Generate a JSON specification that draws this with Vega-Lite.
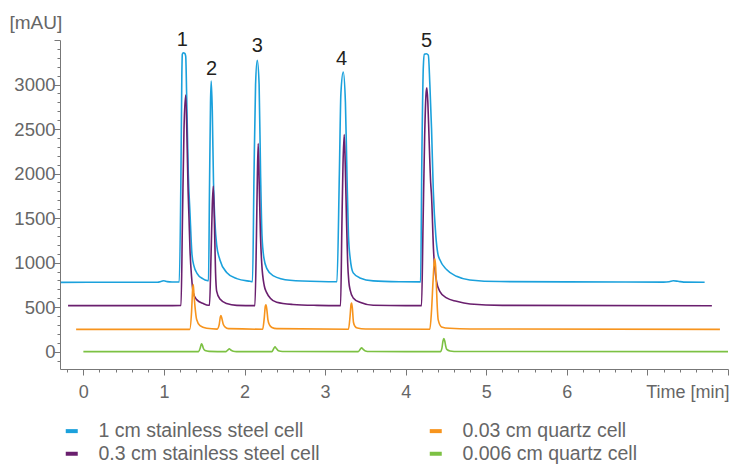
{
  "$schema": "https://vega.github.io/schema/vega-lite/v6.json",
  "width": 668,
  "height": 329,
  "autosize": "none",
  "padding": {"left": 60, "top": 40, "right": 5, "bottom": 95},
  "background": "white",
  "config": {"view": {"stroke": null}, "font": "Liberation Sans"},
  "datasets": {
    "traces": [
      {"series": "1 cm stainless steel cell", "t": -0.28, "v": 778},
      {"series": "1 cm stainless steel cell", "t": 0.5, "v": 780},
      {"series": "1 cm stainless steel cell", "t": 0.92, "v": 780},
      {"series": "1 cm stainless steel cell", "t": 0.97, "v": 790},
      {"series": "1 cm stainless steel cell", "t": 1.0, "v": 796},
      {"series": "1 cm stainless steel cell", "t": 1.04, "v": 786},
      {"series": "1 cm stainless steel cell", "t": 1.1, "v": 782},
      {"series": "1 cm stainless steel cell", "t": 1.19, "v": 783},
      {"series": "1 cm stainless steel cell", "t": 1.21, "v": 1900},
      {"series": "1 cm stainless steel cell", "t": 1.222, "v": 3100},
      {"series": "1 cm stainless steel cell", "t": 1.228, "v": 3340},
      {"series": "1 cm stainless steel cell", "t": 1.24, "v": 3357},
      {"series": "1 cm stainless steel cell", "t": 1.258, "v": 3350},
      {"series": "1 cm stainless steel cell", "t": 1.27, "v": 3320},
      {"series": "1 cm stainless steel cell", "t": 1.282, "v": 2870},
      {"series": "1 cm stainless steel cell", "t": 1.302, "v": 2000},
      {"series": "1 cm stainless steel cell", "t": 1.323, "v": 1560},
      {"series": "1 cm stainless steel cell", "t": 1.348, "v": 1090},
      {"series": "1 cm stainless steel cell", "t": 1.373, "v": 960},
      {"series": "1 cm stainless steel cell", "t": 1.41, "v": 880},
      {"series": "1 cm stainless steel cell", "t": 1.485, "v": 817},
      {"series": "1 cm stainless steel cell", "t": 1.534, "v": 798},
      {"series": "1 cm stainless steel cell", "t": 1.553, "v": 796},
      {"series": "1 cm stainless steel cell", "t": 1.565, "v": 1800},
      {"series": "1 cm stainless steel cell", "t": 1.578, "v": 2800},
      {"series": "1 cm stainless steel cell", "t": 1.587, "v": 3038},
      {"series": "1 cm stainless steel cell", "t": 1.6, "v": 2700},
      {"series": "1 cm stainless steel cell", "t": 1.615, "v": 1900},
      {"series": "1 cm stainless steel cell", "t": 1.633, "v": 1450},
      {"series": "1 cm stainless steel cell", "t": 1.654, "v": 1200},
      {"series": "1 cm stainless steel cell", "t": 1.695, "v": 1030},
      {"series": "1 cm stainless steel cell", "t": 1.778, "v": 890},
      {"series": "1 cm stainless steel cell", "t": 1.903, "v": 820},
      {"series": "1 cm stainless steel cell", "t": 2.068, "v": 790},
      {"series": "1 cm stainless steel cell", "t": 2.099, "v": 786},
      {"series": "1 cm stainless steel cell", "t": 2.118, "v": 2000},
      {"series": "1 cm stainless steel cell", "t": 2.137, "v": 3000},
      {"series": "1 cm stainless steel cell", "t": 2.158, "v": 3271},
      {"series": "1 cm stainless steel cell", "t": 2.181, "v": 3000},
      {"series": "1 cm stainless steel cell", "t": 2.199, "v": 2000},
      {"series": "1 cm stainless steel cell", "t": 2.217, "v": 1300},
      {"series": "1 cm stainless steel cell", "t": 2.241, "v": 1050},
      {"series": "1 cm stainless steel cell", "t": 2.279, "v": 930},
      {"series": "1 cm stainless steel cell", "t": 2.353, "v": 854},
      {"series": "1 cm stainless steel cell", "t": 2.564, "v": 801},
      {"series": "1 cm stainless steel cell", "t": 2.936, "v": 787},
      {"series": "1 cm stainless steel cell", "t": 3.147, "v": 785},
      {"series": "1 cm stainless steel cell", "t": 3.177, "v": 2000},
      {"series": "1 cm stainless steel cell", "t": 3.196, "v": 2900},
      {"series": "1 cm stainless steel cell", "t": 3.225, "v": 3139},
      {"series": "1 cm stainless steel cell", "t": 3.252, "v": 2800},
      {"series": "1 cm stainless steel cell", "t": 3.271, "v": 2000},
      {"series": "1 cm stainless steel cell", "t": 3.29, "v": 1300},
      {"series": "1 cm stainless steel cell", "t": 3.311, "v": 1050},
      {"series": "1 cm stainless steel cell", "t": 3.349, "v": 884},
      {"series": "1 cm stainless steel cell", "t": 3.432, "v": 828},
      {"series": "1 cm stainless steel cell", "t": 3.597, "v": 795},
      {"series": "1 cm stainless steel cell", "t": 3.928, "v": 785},
      {"series": "1 cm stainless steel cell", "t": 4.185, "v": 783},
      {"series": "1 cm stainless steel cell", "t": 4.201, "v": 2200},
      {"series": "1 cm stainless steel cell", "t": 4.219, "v": 3200},
      {"series": "1 cm stainless steel cell", "t": 4.232, "v": 3340},
      {"series": "1 cm stainless steel cell", "t": 4.256, "v": 3346},
      {"series": "1 cm stainless steel cell", "t": 4.281, "v": 3330},
      {"series": "1 cm stainless steel cell", "t": 4.3, "v": 3000},
      {"series": "1 cm stainless steel cell", "t": 4.321, "v": 2500},
      {"series": "1 cm stainless steel cell", "t": 4.343, "v": 1800},
      {"series": "1 cm stainless steel cell", "t": 4.374, "v": 1300},
      {"series": "1 cm stainless steel cell", "t": 4.399, "v": 1100},
      {"series": "1 cm stainless steel cell", "t": 4.423, "v": 1034},
      {"series": "1 cm stainless steel cell", "t": 4.507, "v": 922},
      {"series": "1 cm stainless steel cell", "t": 4.631, "v": 846},
      {"series": "1 cm stainless steel cell", "t": 4.796, "v": 805},
      {"series": "1 cm stainless steel cell", "t": 5.168, "v": 787},
      {"series": "1 cm stainless steel cell", "t": 6.0, "v": 784},
      {"series": "1 cm stainless steel cell", "t": 7.2, "v": 781},
      {"series": "1 cm stainless steel cell", "t": 7.27, "v": 785},
      {"series": "1 cm stainless steel cell", "t": 7.32, "v": 796},
      {"series": "1 cm stainless steel cell", "t": 7.38, "v": 790},
      {"series": "1 cm stainless steel cell", "t": 7.45, "v": 781},
      {"series": "1 cm stainless steel cell", "t": 7.71, "v": 779},

      {"series": "0.3 cm stainless steel cell", "t": -0.19, "v": 517},
      {"series": "0.3 cm stainless steel cell", "t": 1.0, "v": 517},
      {"series": "0.3 cm stainless steel cell", "t": 1.212, "v": 520},
      {"series": "0.3 cm stainless steel cell", "t": 1.23, "v": 1500},
      {"series": "0.3 cm stainless steel cell", "t": 1.249, "v": 2500},
      {"series": "0.3 cm stainless steel cell", "t": 1.27, "v": 2881},
      {"series": "0.3 cm stainless steel cell", "t": 1.286, "v": 2400},
      {"series": "0.3 cm stainless steel cell", "t": 1.3, "v": 1800},
      {"series": "0.3 cm stainless steel cell", "t": 1.311, "v": 1500},
      {"series": "0.3 cm stainless steel cell", "t": 1.323, "v": 1150},
      {"series": "0.3 cm stainless steel cell", "t": 1.342, "v": 850},
      {"series": "0.3 cm stainless steel cell", "t": 1.364, "v": 660},
      {"series": "0.3 cm stainless steel cell", "t": 1.406, "v": 584},
      {"series": "0.3 cm stainless steel cell", "t": 1.488, "v": 540},
      {"series": "0.3 cm stainless steel cell", "t": 1.55, "v": 521},
      {"series": "0.3 cm stainless steel cell", "t": 1.565, "v": 522},
      {"series": "0.3 cm stainless steel cell", "t": 1.585, "v": 1100},
      {"series": "0.3 cm stainless steel cell", "t": 1.6, "v": 1650},
      {"series": "0.3 cm stainless steel cell", "t": 1.612, "v": 1858},
      {"series": "0.3 cm stainless steel cell", "t": 1.625, "v": 1500},
      {"series": "0.3 cm stainless steel cell", "t": 1.64, "v": 900},
      {"series": "0.3 cm stainless steel cell", "t": 1.654, "v": 680},
      {"series": "0.3 cm stainless steel cell", "t": 1.695, "v": 590},
      {"series": "0.3 cm stainless steel cell", "t": 1.778, "v": 540},
      {"series": "0.3 cm stainless steel cell", "t": 1.903, "v": 520},
      {"series": "0.3 cm stainless steel cell", "t": 2.129, "v": 517},
      {"series": "0.3 cm stainless steel cell", "t": 2.148, "v": 1300},
      {"series": "0.3 cm stainless steel cell", "t": 2.16, "v": 2000},
      {"series": "0.3 cm stainless steel cell", "t": 2.17, "v": 2338},
      {"series": "0.3 cm stainless steel cell", "t": 2.182, "v": 1900},
      {"series": "0.3 cm stainless steel cell", "t": 2.198, "v": 1300},
      {"series": "0.3 cm stainless steel cell", "t": 2.213, "v": 1000},
      {"series": "0.3 cm stainless steel cell", "t": 2.245, "v": 740},
      {"series": "0.3 cm stainless steel cell", "t": 2.275, "v": 663},
      {"series": "0.3 cm stainless steel cell", "t": 2.32, "v": 600},
      {"series": "0.3 cm stainless steel cell", "t": 2.399, "v": 554},
      {"series": "0.3 cm stainless steel cell", "t": 2.6, "v": 530},
      {"series": "0.3 cm stainless steel cell", "t": 2.9, "v": 520},
      {"series": "0.3 cm stainless steel cell", "t": 3.192, "v": 517},
      {"series": "0.3 cm stainless steel cell", "t": 3.208, "v": 1400},
      {"series": "0.3 cm stainless steel cell", "t": 3.222, "v": 2100},
      {"series": "0.3 cm stainless steel cell", "t": 3.237, "v": 2439},
      {"series": "0.3 cm stainless steel cell", "t": 3.25, "v": 2100},
      {"series": "0.3 cm stainless steel cell", "t": 3.265, "v": 1500},
      {"series": "0.3 cm stainless steel cell", "t": 3.28, "v": 1000},
      {"series": "0.3 cm stainless steel cell", "t": 3.295, "v": 780},
      {"series": "0.3 cm stainless steel cell", "t": 3.311, "v": 690},
      {"series": "0.3 cm stainless steel cell", "t": 3.349, "v": 603},
      {"series": "0.3 cm stainless steel cell", "t": 3.432, "v": 554},
      {"series": "0.3 cm stainless steel cell", "t": 3.597, "v": 521},
      {"series": "0.3 cm stainless steel cell", "t": 4.0, "v": 517},
      {"series": "0.3 cm stainless steel cell", "t": 4.197, "v": 517},
      {"series": "0.3 cm stainless steel cell", "t": 4.215, "v": 1400},
      {"series": "0.3 cm stainless steel cell", "t": 4.235, "v": 2400},
      {"series": "0.3 cm stainless steel cell", "t": 4.253, "v": 2900},
      {"series": "0.3 cm stainless steel cell", "t": 4.263, "v": 2964},
      {"series": "0.3 cm stainless steel cell", "t": 4.275, "v": 2800},
      {"series": "0.3 cm stainless steel cell", "t": 4.29, "v": 2400},
      {"series": "0.3 cm stainless steel cell", "t": 4.31, "v": 1900},
      {"series": "0.3 cm stainless steel cell", "t": 4.321, "v": 1746},
      {"series": "0.3 cm stainless steel cell", "t": 4.345, "v": 1150},
      {"series": "0.3 cm stainless steel cell", "t": 4.383, "v": 790},
      {"series": "0.3 cm stainless steel cell", "t": 4.423, "v": 678},
      {"series": "0.3 cm stainless steel cell", "t": 4.507, "v": 603},
      {"series": "0.3 cm stainless steel cell", "t": 4.631, "v": 565},
      {"series": "0.3 cm stainless steel cell", "t": 4.8, "v": 535},
      {"series": "0.3 cm stainless steel cell", "t": 5.2, "v": 520},
      {"series": "0.3 cm stainless steel cell", "t": 7.8, "v": 515},

      {"series": "0.03 cm quartz cell", "t": -0.09, "v": 250},
      {"series": "0.03 cm quartz cell", "t": 1.32, "v": 250},
      {"series": "0.03 cm quartz cell", "t": 1.343, "v": 450},
      {"series": "0.03 cm quartz cell", "t": 1.356, "v": 700},
      {"series": "0.03 cm quartz cell", "t": 1.364, "v": 753},
      {"series": "0.03 cm quartz cell", "t": 1.372, "v": 650},
      {"series": "0.03 cm quartz cell", "t": 1.385, "v": 509},
      {"series": "0.03 cm quartz cell", "t": 1.406, "v": 360},
      {"series": "0.03 cm quartz cell", "t": 1.447, "v": 292},
      {"series": "0.03 cm quartz cell", "t": 1.53, "v": 262},
      {"series": "0.03 cm quartz cell", "t": 1.66, "v": 253},
      {"series": "0.03 cm quartz cell", "t": 1.685, "v": 300},
      {"series": "0.03 cm quartz cell", "t": 1.7, "v": 390},
      {"series": "0.03 cm quartz cell", "t": 1.708, "v": 405},
      {"series": "0.03 cm quartz cell", "t": 1.72, "v": 370},
      {"series": "0.03 cm quartz cell", "t": 1.735, "v": 310},
      {"series": "0.03 cm quartz cell", "t": 1.76, "v": 275},
      {"series": "0.03 cm quartz cell", "t": 1.8, "v": 258},
      {"series": "0.03 cm quartz cell", "t": 2.225, "v": 252},
      {"series": "0.03 cm quartz cell", "t": 2.245, "v": 380},
      {"series": "0.03 cm quartz cell", "t": 2.258, "v": 510},
      {"series": "0.03 cm quartz cell", "t": 2.266, "v": 525},
      {"series": "0.03 cm quartz cell", "t": 2.276, "v": 480},
      {"series": "0.03 cm quartz cell", "t": 2.29, "v": 360},
      {"series": "0.03 cm quartz cell", "t": 2.31, "v": 300},
      {"series": "0.03 cm quartz cell", "t": 2.34, "v": 272},
      {"series": "0.03 cm quartz cell", "t": 2.4, "v": 258},
      {"series": "0.03 cm quartz cell", "t": 3.29, "v": 252},
      {"series": "0.03 cm quartz cell", "t": 3.31, "v": 400},
      {"series": "0.03 cm quartz cell", "t": 3.322, "v": 530},
      {"series": "0.03 cm quartz cell", "t": 3.329, "v": 547},
      {"series": "0.03 cm quartz cell", "t": 3.339, "v": 480},
      {"series": "0.03 cm quartz cell", "t": 3.352, "v": 330},
      {"series": "0.03 cm quartz cell", "t": 3.37, "v": 285},
      {"series": "0.03 cm quartz cell", "t": 3.4, "v": 265},
      {"series": "0.03 cm quartz cell", "t": 3.5, "v": 255},
      {"series": "0.03 cm quartz cell", "t": 4.3, "v": 252},
      {"series": "0.03 cm quartz cell", "t": 4.32, "v": 450},
      {"series": "0.03 cm quartz cell", "t": 4.34, "v": 800},
      {"series": "0.03 cm quartz cell", "t": 4.355, "v": 1020},
      {"series": "0.03 cm quartz cell", "t": 4.362, "v": 1042},
      {"series": "0.03 cm quartz cell", "t": 4.372, "v": 950},
      {"series": "0.03 cm quartz cell", "t": 4.385, "v": 650},
      {"series": "0.03 cm quartz cell", "t": 4.395, "v": 450},
      {"series": "0.03 cm quartz cell", "t": 4.403, "v": 360},
      {"series": "0.03 cm quartz cell", "t": 4.445, "v": 278},
      {"series": "0.03 cm quartz cell", "t": 4.548, "v": 262},
      {"series": "0.03 cm quartz cell", "t": 4.8, "v": 255},
      {"series": "0.03 cm quartz cell", "t": 7.9, "v": 250},

      {"series": "0.006 cm quartz cell", "t": 0.0, "v": 0},
      {"series": "0.006 cm quartz cell", "t": 1.43, "v": 0},
      {"series": "0.006 cm quartz cell", "t": 1.45, "v": 40},
      {"series": "0.006 cm quartz cell", "t": 1.462, "v": 80},
      {"series": "0.006 cm quartz cell", "t": 1.468, "v": 88},
      {"series": "0.006 cm quartz cell", "t": 1.478, "v": 70},
      {"series": "0.006 cm quartz cell", "t": 1.49, "v": 35},
      {"series": "0.006 cm quartz cell", "t": 1.51, "v": 12},
      {"series": "0.006 cm quartz cell", "t": 1.56, "v": 3},
      {"series": "0.006 cm quartz cell", "t": 1.77, "v": 0},
      {"series": "0.006 cm quartz cell", "t": 1.795, "v": 20},
      {"series": "0.006 cm quartz cell", "t": 1.811, "v": 32},
      {"series": "0.006 cm quartz cell", "t": 1.83, "v": 18},
      {"series": "0.006 cm quartz cell", "t": 1.86, "v": 5},
      {"series": "0.006 cm quartz cell", "t": 1.9, "v": 0},
      {"series": "0.006 cm quartz cell", "t": 2.34, "v": 0},
      {"series": "0.006 cm quartz cell", "t": 2.36, "v": 30},
      {"series": "0.006 cm quartz cell", "t": 2.378, "v": 53},
      {"series": "0.006 cm quartz cell", "t": 2.395, "v": 35},
      {"series": "0.006 cm quartz cell", "t": 2.42, "v": 10},
      {"series": "0.006 cm quartz cell", "t": 2.47, "v": 2},
      {"series": "0.006 cm quartz cell", "t": 3.41, "v": 0},
      {"series": "0.006 cm quartz cell", "t": 3.435, "v": 25},
      {"series": "0.006 cm quartz cell", "t": 3.453, "v": 42},
      {"series": "0.006 cm quartz cell", "t": 3.47, "v": 28},
      {"series": "0.006 cm quartz cell", "t": 3.5, "v": 8},
      {"series": "0.006 cm quartz cell", "t": 3.55, "v": 1},
      {"series": "0.006 cm quartz cell", "t": 4.43, "v": 0},
      {"series": "0.006 cm quartz cell", "t": 4.45, "v": 40},
      {"series": "0.006 cm quartz cell", "t": 4.463, "v": 120},
      {"series": "0.006 cm quartz cell", "t": 4.474, "v": 146},
      {"series": "0.006 cm quartz cell", "t": 4.485, "v": 120},
      {"series": "0.006 cm quartz cell", "t": 4.497, "v": 60},
      {"series": "0.006 cm quartz cell", "t": 4.51, "v": 25},
      {"series": "0.006 cm quartz cell", "t": 4.55, "v": 8},
      {"series": "0.006 cm quartz cell", "t": 4.65, "v": 2},
      {"series": "0.006 cm quartz cell", "t": 8.0, "v": 0}
    ],
    "peaks": [
      {"label": "1", "t": 1.228, "v": 3500},
      {"label": "2", "t": 1.592, "v": 3175},
      {"label": "3", "t": 2.158, "v": 3436},
      {"label": "4", "t": 3.205, "v": 3286},
      {"label": "5", "t": 4.259, "v": 3492}
    ]
  },
  "layer": [
    {
      "data": {"name": "traces"},
      "mark": {"type": "line", "interpolate": "monotone", "strokeWidth": 1.6},
      "encoding": {
        "x": {
          "field": "t", "type": "quantitative",
          "scale": {"domain": [-0.29, 8.0], "nice": false, "zero": false},
          "axis": {
            "values": [-0.2, 0, 0.2, 0.4, 0.6, 0.8, 1, 1.2, 1.4, 1.6, 1.8, 2, 2.2, 2.4, 2.6, 2.8, 3, 3.2, 3.4, 3.6, 3.8, 4, 4.2, 4.4, 4.6, 4.8, 5, 5.2, 5.4, 5.6, 5.8, 6, 6.2, 6.4, 6.6, 6.8, 7, 7.2, 7.4, 7.6, 7.8, 8],
            "tickCount": 1000,
            "labelExpr": "abs(datum.value - round(datum.value)) < 0.001 && datum.value >= 0 && datum.value <= 6 ? format(datum.value, 'd') : ''",
            "labelOverlap": false,
            "labelFontSize": 18, "labelColor": "#666666", "labelPadding": 8, "labelBaseline": "top",
            "grid": false,
            "domainColor": "#777777", "domainWidth": 1,
            "tickColor": "#777777", "tickWidth": 1,
            "tickSize": {"condition": {"test": "abs(datum.value - round(datum.value)) < 0.001", "value": 6}, "value": 3},
            "title": "Time [min]",
            "titleFontSize": 18, "titleFontWeight": "normal", "titleColor": "#666666",
            "titleAlign": "right", "titleBaseline": "alphabetic",
            "titleX": 669, "titleY": 28
          }
        },
        "y": {
          "field": "v", "type": "quantitative",
          "scale": {"domain": [-195, 3500], "nice": false, "zero": false},
          "axis": {
            "values": [-100, 0, 100, 200, 300, 400, 500, 600, 700, 800, 900, 1000, 1100, 1200, 1300, 1400, 1500, 1600, 1700, 1800, 1900, 2000, 2100, 2200, 2300, 2400, 2500, 2600, 2700, 2800, 2900, 3000, 3100, 3200, 3300, 3400, 3500],
            "tickCount": 1000,
            "labelExpr": "datum.value % 500 === 0 && datum.value <= 3000 ? format(datum.value, 'd') : ''",
            "labelOverlap": false,
            "labelFontSize": 18.5, "labelColor": "#666666", "labelPadding": -1,
            "grid": false,
            "domainColor": "#777777", "domainWidth": 1,
            "tickColor": "#777777", "tickWidth": 1,
            "tickSize": {"condition": {"test": "datum.value % 500 === 0", "value": 6}, "value": 3},
            "title": "[mAU]",
            "titleAngle": 0, "titleFontSize": 19, "titleFontWeight": "normal", "titleColor": "#666666",
            "titleAlign": "left", "titleBaseline": "middle",
            "titleX": -51, "titleY": -18
          }
        },
        "color": {
          "field": "series", "type": "nominal",
          "scale": {
            "domain": ["1 cm stainless steel cell", "0.3 cm stainless steel cell", "0.03 cm quartz cell", "0.006 cm quartz cell"],
            "range": ["#1ba1dc", "#6a1f6e", "#f7941d", "#7cc143"]
          },
          "legend": {
            "orient": "none", "legendX": 2, "legendY": 381,
            "columns": 2, "columnPadding": 101, "rowPadding": 2,
            "title": null, "padding": 0,
            "symbolType": "M-1,0H1", "symbolSize": 144, "symbolStrokeWidth": 4,
            "labelFontSize": 19.5, "labelColor": "#666666", "labelOffset": 17, "labelLimit": 400
          }
        },
        "order": {"field": "t", "type": "quantitative"}
      }
    },
    {
      "data": {"name": "peaks"},
      "mark": {"type": "text", "fontSize": 20, "color": "#231f20", "align": "center", "baseline": "middle"},
      "encoding": {
        "x": {"field": "t", "type": "quantitative"},
        "y": {"field": "v", "type": "quantitative"},
        "text": {"field": "label"}
      }
    }
  ]
}
